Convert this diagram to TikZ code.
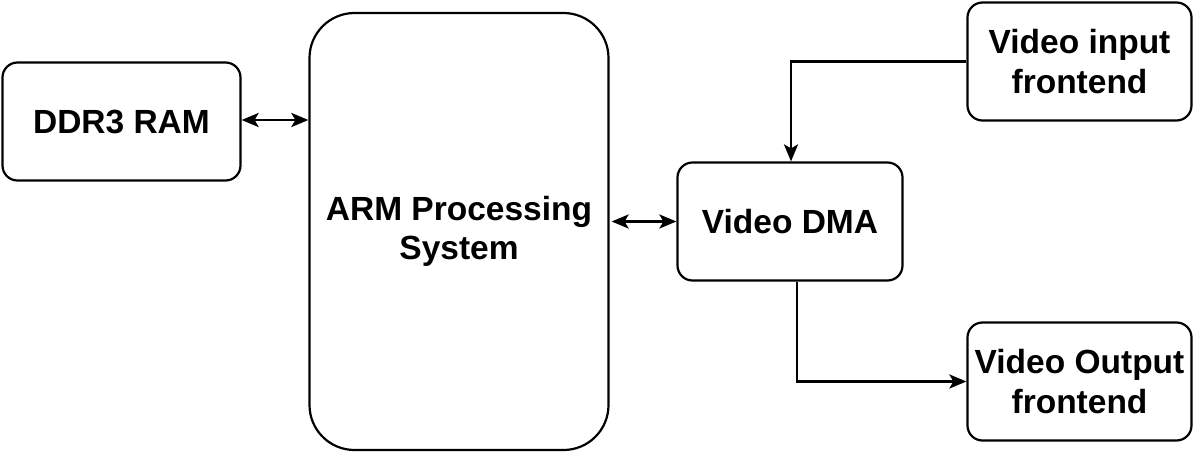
\documentclass[tikz,border=0pt]{standalone}
\usepackage{fontspec}
\setmainfont{Liberation Sans}
\usetikzlibrary{arrows.meta}
\begin{document}
\begin{tikzpicture}[x=1pt,y=-1pt,
  blk/.style={draw, line width=2.2pt, rounded corners=15pt, align=center, inner sep=0pt,
    font=\fontsize{33.5}{39.5}\selectfont\bfseries},
  conn/.style={line width=2.8pt, arrows={-Stealth[length=17pt,width=14pt,inset=4pt]}},
  bconn/.style={line width=2.8pt, arrows={Stealth[length=17pt,width=14pt,inset=4pt]-Stealth[length=17pt,width=14pt,inset=4pt]}}]
\useasboundingbox (0,0) rectangle (1194,452);
\node[blk, minimum width=238pt, minimum height=118pt] (ddr) at (121.5,121.5) {DDR3 RAM};
\node[blk, rounded corners=45pt, minimum width=299pt, minimum height=437pt] (arm) at (459,231.5) {ARM Processing\\System};
\node[blk, minimum width=225pt, minimum height=118pt] (dma) at (790,221.5) {Video DMA};
\node[blk, minimum width=224pt, minimum height=118pt] (vin) at (1079.5,61.5) {Video input\\frontend};
\node[blk, minimum width=224pt, minimum height=118pt] (vout) at (1079.5,381.5) {Video Output\\frontend};
\draw[bconn] ([yshift=1.5pt]ddr.east) -- ([yshift=1.5pt]ddr.east -| arm.west);
\draw[bconn] ([xshift=2pt]arm.east |- dma.west) -- (dma.west);
\draw[conn] (vin.west) -| ([xshift=1pt]dma.north);
\draw[conn] ([xshift=7pt]dma.south) |- (vout.west);
\end{tikzpicture}
\end{document}
